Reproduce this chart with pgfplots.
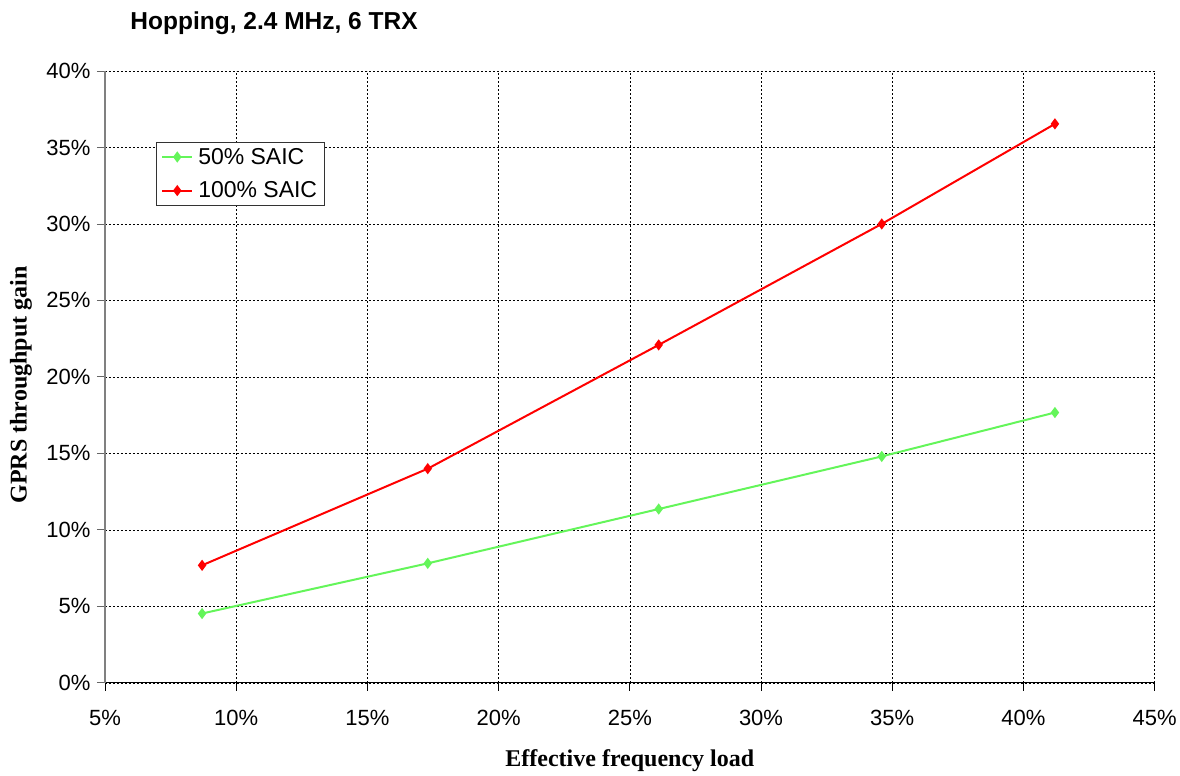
\documentclass[border=0pt]{standalone}
\usepackage{pgfplots}
\pgfplotsset{compat=1.18}
\usepackage{fontspec}
\setmainfont{Liberation Sans}
\newfontfamily\serifbf{Liberation Serif}
\definecolor{saicgreen}{RGB}{100,245,90}
\definecolor{saicred}{RGB}{255,0,0}
\begin{document}
\begin{tikzpicture}
\begin{axis}[
  at={(0,0)}, anchor=south west,
  scale only axis,
  width=1050pt, height=612pt,
  xmin=5, xmax=45, ymin=0, ymax=40,
  xtick={5,10,...,45}, ytick={0,5,...,40},
  xticklabels={5\%,10\%,15\%,20\%,25\%,30\%,35\%,40\%,45\%},
  yticklabels={0\%,5\%,10\%,15\%,20\%,25\%,30\%,35\%,40\%},
  axis lines=left,
  x axis line style={-, black, line width=1pt},
  y axis line style={-, black!50, line width=1.4pt},
  tick align=outside, major tick length=8pt,
  x tick style={black, line width=0.8pt},
  y tick style={black!60, line width=0.8pt},
  ticklabel style={font=\fontsize{22}{24}\selectfont},
  xticklabel style={yshift=-16pt},
  yticklabel style={xshift=-3pt},
  grid=major,
  grid style={black, dash pattern=on 2pt off 2pt, line width=0.6pt},
  legend style={at={(0.0486,0.884)}, anchor=north west,
    draw=black!80, line width=0.6pt, font=\fontsize{23}{27}\selectfont,
    inner xsep=5pt, inner ysep=4pt, row sep=12pt, column sep=3pt,
    legend cell align=left},
  legend image code/.code={\draw[#1] (0pt,0pt) -- (30pt,0pt);
    \draw[#1, mark repeat=2, mark phase=2] plot coordinates {(0pt,0pt) (15pt,0pt) (30pt,0pt)};},
  clip=false,
]
\addplot[saicgreen, line width=2pt, mark=diamond*, mark size=4pt]
  coordinates {(8.7,4.53) (17.3,7.81) (26.1,11.36) (34.6,14.80) (41.2,17.67)};
\addlegendentry{50\% SAIC}
\addplot[saicred, line width=2pt, mark=diamond*, mark size=4pt]
  coordinates {(8.7,7.68) (17.3,14.0) (26.1,22.09) (34.6,30.0) (41.2,36.54)};
\addlegendentry{100\% SAIC}
\end{axis}
\node[anchor=west, font=\bfseries\fontsize{24.5}{28}\selectfont] at (22pt,660pt) {Hopping, 2.4 MHz, 6 TRX};
\node[rotate=90, font=\serifbf\bfseries\fontsize{24}{28}\selectfont] at (-84pt,298pt) {GPRS throughput gain};
\node[font=\serifbf\bfseries\fontsize{24}{28}\selectfont] at (525pt,-78pt) {Effective frequency load};
\useasboundingbox (-105pt,-93pt) rectangle (1075pt,683pt);
\end{tikzpicture}
\end{document}
